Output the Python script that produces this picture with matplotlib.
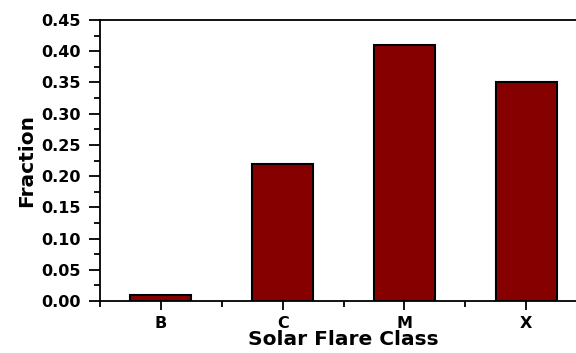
import numpy as np
import matplotlib
matplotlib.use('Agg')
from matplotlib import pyplot as plt
from matplotlib.ticker import MultipleLocator, FixedLocator, FormatStrFormatter

plt.rcParams['font.family'] = ['DejaVu Sans']
plt.rcParams['font.weight'] = 'bold'

flare_classes = ['B', 'C', 'M', 'X']
fractions = [0.01, 0.22, 0.41, 0.35]

fig = plt.figure(figsize=(5.76, 3.53), dpi=100)
# axes run a little past the right edge of the canvas
ax = fig.add_axes([100 / 576, 1 - 301 / 353, 487 / 576, 281 / 353])

x = np.arange(len(flare_classes))
ax.bar(x, fractions, width=0.5, color='#870000', edgecolor='black', linewidth=1.5, zorder=3)

ax.set_xlim(-0.5, 3.5)
ax.set_ylim(0, 0.45)
ax.set_xticks(x)
ax.set_xticklabels(flare_classes)
ax.xaxis.set_minor_locator(FixedLocator([-0.5, 0.5, 1.5, 2.5]))
ax.yaxis.set_major_locator(MultipleLocator(0.05))
ax.yaxis.set_minor_locator(MultipleLocator(0.025))
ax.yaxis.set_major_formatter(FormatStrFormatter('%.2f'))

for side in ['left', 'bottom', 'top', 'right']:
    ax.spines[side].set_linewidth(1.3)

ax.tick_params(axis='both', which='major', direction='out', length=8, width=1.3,
               labelsize=11.5, pad=5.5)
ax.tick_params(axis='both', which='minor', direction='out', length=4, width=1.3)
ax.tick_params(axis='x', which='major', length=6.5, pad=4.5)
ax.tick_params(top=False, right=False, which='both')

ax.set_xlabel('Solar Flare Class', fontsize=14.5, fontweight='bold', labelpad=-1)
ax.set_ylabel('Fraction', fontsize=14.5, fontweight='bold', labelpad=4)

fig.savefig('out.png', dpi=100)
